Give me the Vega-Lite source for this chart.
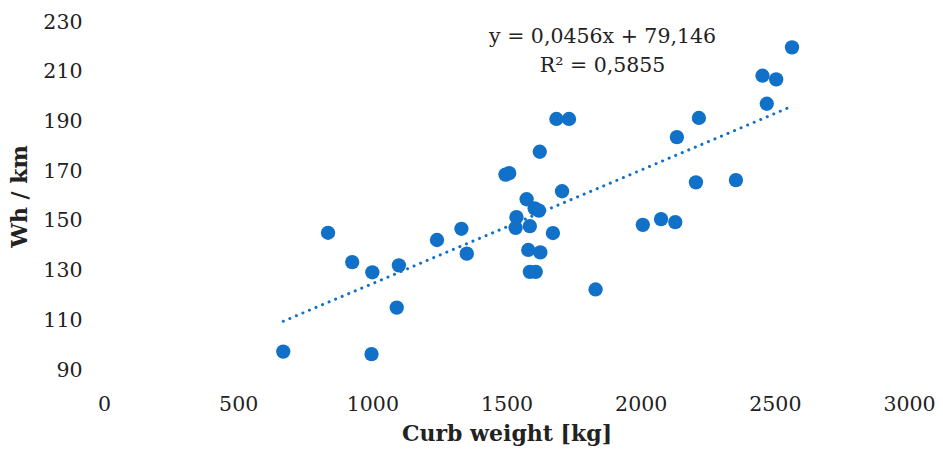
{
  "$schema": "https://vega.github.io/schema/vega-lite/v6.json",
  "width": 805,
  "height": 348,
  "autosize": {"type": "none"},
  "padding": {"left": 104, "top": 22, "right": 34, "bottom": 82},
  "background": "white",
  "config": {
    "view": {"stroke": null},
    "font": "DejaVu Serif",
    "axis": {"grid": false, "domain": false, "ticks": false, "labelFlush": false, "labelFont": "DejaVu Serif", "labelFontSize": 20.5, "labelColor": "#222222", "titleFont": "DejaVu Serif", "titleFontSize": 22, "titleFontWeight": "bold", "titleColor": "#222222"}
  },
  "datasets": {
    "points": [
      {"weight": 668, "whkm": 97.4},
      {"weight": 835, "whkm": 145.2},
      {"weight": 925, "whkm": 133.4},
      {"weight": 997, "whkm": 96.4},
      {"weight": 1000, "whkm": 129.3},
      {"weight": 1091, "whkm": 115.1},
      {"weight": 1099, "whkm": 132.1},
      {"weight": 1241, "whkm": 142.3},
      {"weight": 1332, "whkm": 146.8},
      {"weight": 1352, "whkm": 136.8},
      {"weight": 1496, "whkm": 168.6},
      {"weight": 1510, "whkm": 169.2},
      {"weight": 1534, "whkm": 147.2},
      {"weight": 1537, "whkm": 151.5},
      {"weight": 1575, "whkm": 158.7},
      {"weight": 1581, "whkm": 138.3},
      {"weight": 1587, "whkm": 147.9},
      {"weight": 1587, "whkm": 129.5},
      {"weight": 1605, "whkm": 155.0},
      {"weight": 1609, "whkm": 129.5},
      {"weight": 1621, "whkm": 154.1},
      {"weight": 1624, "whkm": 177.8},
      {"weight": 1626, "whkm": 137.3},
      {"weight": 1673, "whkm": 145.1},
      {"weight": 1686, "whkm": 191.0},
      {"weight": 1707, "whkm": 161.9},
      {"weight": 1733, "whkm": 191.0},
      {"weight": 1832, "whkm": 122.4},
      {"weight": 2008, "whkm": 148.4},
      {"weight": 2076, "whkm": 150.7},
      {"weight": 2129, "whkm": 149.5},
      {"weight": 2135, "whkm": 183.7},
      {"weight": 2206, "whkm": 165.5},
      {"weight": 2217, "whkm": 191.4},
      {"weight": 2355, "whkm": 166.4},
      {"weight": 2454, "whkm": 208.4},
      {"weight": 2470, "whkm": 197.1},
      {"weight": 2505, "whkm": 206.9},
      {"weight": 2564, "whkm": 219.8}
    ],
    "trend": [
      {"weight": 668, "whkm": 109.6},
      {"weight": 2564, "whkm": 196.1}
    ],
    "labels": [
      {"weight": 1858, "whkm": 224.0, "text": "y = 0,0456x + 79,146"},
      {"weight": 1858, "whkm": 212.3, "text": "R² = 0,5855"}
    ]
  },
  "layer": [
    {
      "data": {"name": "trend"},
      "mark": {"type": "line", "color": "#1170C8", "strokeWidth": 3, "strokeDash": [0.1, 7], "strokeCap": "round"},
      "encoding": {
        "x": {"field": "weight", "type": "quantitative", "scale": {"domain": [0, 3000]}},
        "y": {"field": "whkm", "type": "quantitative", "scale": {"domain": [90, 230]}}
      }
    },
    {
      "data": {"name": "points"},
      "mark": {"type": "circle", "color": "#1170C8", "opacity": 1, "size": 205},
      "encoding": {
        "x": {"field": "weight", "type": "quantitative", "scale": {"domain": [0, 3000]},
          "axis": {"values": [0, 500, 1000, 1500, 2000, 2500, 3000], "format": "d", "labelPadding": 24, "title": "Curb weight [kg]", "titlePadding": 9}},
        "y": {"field": "whkm", "type": "quantitative", "scale": {"domain": [90, 230], "zero": false},
          "axis": {"values": [90, 110, 130, 150, 170, 190, 210, 230], "format": "d", "labelPadding": 22, "title": "Wh / km", "titlePadding": 11}}
      }
    },
    {
      "data": {"name": "labels"},
      "mark": {"type": "text", "font": "DejaVu Serif", "fontSize": 20.5, "color": "#222222", "baseline": "middle", "align": "center"},
      "encoding": {
        "x": {"field": "weight", "type": "quantitative"},
        "y": {"field": "whkm", "type": "quantitative"},
        "text": {"field": "text"}
      }
    }
  ]
}
